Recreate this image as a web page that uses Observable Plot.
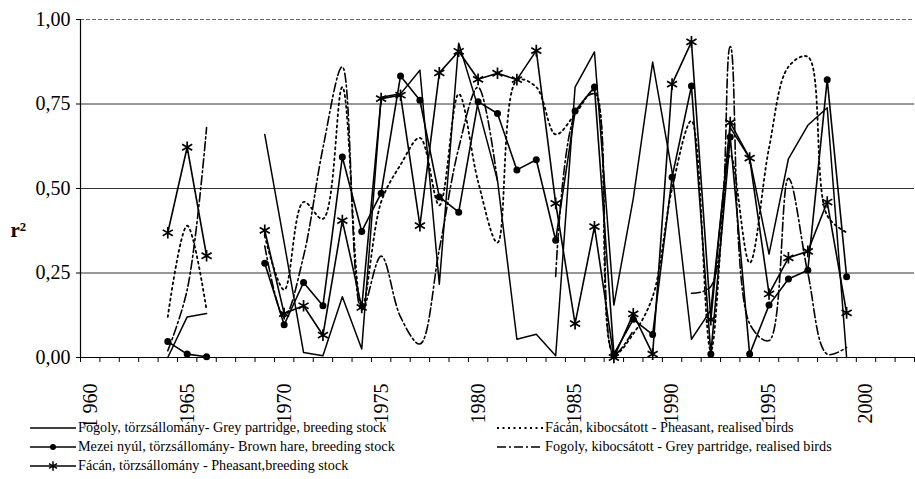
<!DOCTYPE html>
<html><head><meta charset="utf-8">
<script src="https://cdn.jsdelivr.net/npm/d3@7"></script>
<script src="https://cdn.jsdelivr.net/npm/@observablehq/plot@0.6"></script>
<style>
body{margin:0;background:#fff;font-family:"Liberation Serif",serif;}
#legend{position:relative;height:61px;font-size:14.2px;color:#000;}
.item{position:absolute;display:flex;align-items:center;height:19px;white-space:nowrap;}
.item svg{display:block;margin-right:2px;}
</style></head>
<body><div id="chart"></div><div id="legend"></div>
<script>
const years = [1964,1965,1966,1967,1968,1969,1970,1971,1972,1973,1974,1975,1976,1977,1978,1979,1980,1981,1982,1983,1984,1985,1986,1987,1988,1989,1990,1991,1992,1993,1994,1995,1996,1997,1998,1999];

const fogolyTorzs = [0.00,0.12,0.13,null,null,0.66,0.34,0.015,0.005,0.18,0.025,0.77,0.78,0.85,0.217,0.93,0.74,0.524,0.054,0.069,0.005,0.80,0.904,0.155,0.47,0.874,0.55,0.054,0.14,0.68,0.59,0.306,0.588,0.687,0.739,0.0];
const nyulTorzs = [0.047,0.01,0.002,null,null,0.279,0.097,0.222,0.153,0.593,0.373,0.486,0.833,0.761,0.475,0.43,0.757,0.722,0.555,0.585,0.347,0.729,0.80,0.01,0.113,0.068,0.533,0.803,0.01,0.652,0.01,0.155,0.232,0.258,0.822,0.239];
const facanTorzs = [0.369,0.622,0.301,null,null,0.376,0.13,0.153,0.066,0.405,0.148,0.766,0.776,0.39,0.842,0.906,0.823,0.841,0.822,0.908,0.456,0.10,0.387,0.0,0.129,0.01,0.809,0.934,0.112,0.695,0.59,0.188,0.295,0.314,0.46,0.132];
const facanKib = [0.12,0.39,0.14,null,null,0.36,0.20,0.46,0.41,0.80,0.15,0.46,0.57,0.65,0.45,0.78,0.52,0.34,0.82,0.80,0.66,0.72,0.79,0.01,0.07,0.18,0.50,0.70,0.02,0.60,0.28,0.62,0.86,0.89,0.42,0.37];
const fogolyKib = [0.02,0.20,0.68,null,null,0.33,0.12,0.30,0.62,0.86,0.14,0.30,0.12,0.04,0.32,0.62,0.80,0.52,null,null,0.24,0.72,0.78,0.01,0.08,null,null,0.19,0.21,0.92,0.10,0.05,0.53,0.25,0.01,0.03];

const seriesNames = [
  "Fogoly, törzsállomány- Grey partridge, breeding stock",
  "Mezei nyúl, törzsállomány- Brown hare, breeding stock",
  "Fácán, törzsállomány - Pheasant,breeding stock",
  "Fácán, kibocsátott - Pheasant, realised birds",
  "Fogoly, kibocsátott - Grey partridge, realised birds"
];
const seriesValues = [fogolyTorzs, nyulTorzs, facanTorzs, facanKib, fogolyKib];

const xLabelYears = [1960,1965,1970,1975,1980,1985,1990,1995,2000];
const xTickLabels = ["1 960","1965","1970","1975","1980","1985","1990","1995","2000"];
const yTicks = [0,0.25,0.5,0.75,1];
const yTickLabels = ["0,00","0,25","0,50","0,75","1,00"];
const yAxisLabel = "r²";

// styles (kept separate from data)
const styles = [
  {dash: null, marker: null, curve: "linear", w: 1.5},
  {dash: null, marker: "circle", curve: "linear", w: 1.6},
  {dash: null, marker: "asterisk", curve: "linear", w: 1.6},
  {dash: "2,3.5", marker: null, curve: "catmull-rom", w: 1.8},
  {dash: "9,3,2,3", marker: null, curve: "catmull-rom", w: 1.6}
];

const tables = seriesValues.map((vals, s) => years.map((y, i) => ({year: y, value: vals[i], s})));

const boundaries = d3.range(1959.5, 2003, 1);

const marks = [
  Plot.ruleY([0.25,0.5,0.75], {stroke: "#333", strokeWidth: 1}),
  Plot.ruleY([1], {stroke: "#666", strokeWidth: 1.2, strokeDasharray: "4,2"}),
  Plot.axisY({ticks: yTicks, label: null, tickFormat: (d) => yTickLabels[yTicks.indexOf(d)], tickSize: 4, tickPadding: 6, fontSize: 20}),
  Plot.axisX({ticks: boundaries, label: null, tickSize: 5, tickFormat: () => "", tickPadding: 0}),
  Plot.axisX({ticks: xLabelYears, label: null, tickSize: 0, tickRotate: -90, tickPadding: 26, fontSize: 20, tickFormat: (d) => xTickLabels[xLabelYears.indexOf(d)]}),
  Plot.text([yAxisLabel], {frameAnchor: "left", textAnchor: "start", dx: -70, dy: 42, fontSize: 21, fontWeight: "bold", text: d => d})
];

tables.forEach((t, s) => {
  const st = styles[s];
  marks.push(Plot.line(t, {x: "year", y: "value", stroke: "black", strokeWidth: st.w, strokeDasharray: st.dash, curve: st.curve}));
  const pts = t.filter(d => d.value !== null);
  if (st.marker === "circle") marks.push(Plot.dot(pts, {x: "year", y: "value", r: 3.5, fill: "black", stroke: "none"}));
  if (st.marker === "asterisk") marks.push(Plot.dot(pts, {x: "year", y: "value", symbol: "asterisk", r: 5.5, stroke: "black", strokeWidth: 1.7}));
});

marks.push(Plot.ruleY([0], {stroke: "black", strokeWidth: 1.2}));
marks.push(Plot.ruleX([1959.5], {stroke: "black", strokeWidth: 1.2}));

const chart = Plot.plot({
  width: 915, height: 418,
  marginLeft: 80, marginRight: 1, marginTop: 19, marginBottom: 61,
  x: {domain: [1959.5, 2002.5], label: null},
  y: {domain: [0, 1], label: null},
  style: {fontFamily: "Liberation Serif", color: "black", background: "white", overflow: "visible"},
  marks
});
document.getElementById("chart").appendChild(chart);

// legend
const legend = d3.select("#legend");
const positions = [[30,0],[30,19],[30,38],[497,0],[497,19]];
seriesNames.forEach((name, s) => {
  const st = styles[s];
  const item = legend.append("div").attr("class","item").style("left", positions[s][0]+"px").style("top", positions[s][1]+"px");
  const sv = item.append("svg").attr("width", 46).attr("height", 19);
  sv.append("line").attr("x1",0).attr("x2",46).attr("y1",10).attr("y2",10).attr("stroke","black").attr("stroke-width",st.w).attr("stroke-dasharray", st.dash);
  if (st.marker === "circle") sv.append("circle").attr("cx",23).attr("cy",10).attr("r",3).attr("fill","black");
  if (st.marker === "asterisk") sv.append("path").attr("transform","translate(23,10)").attr("d", d3.symbol(d3.symbolAsterisk, 60)()).attr("stroke","black").attr("stroke-width",1.5).attr("fill","none");
  item.append("span").text(name);
});
</script></body></html>
